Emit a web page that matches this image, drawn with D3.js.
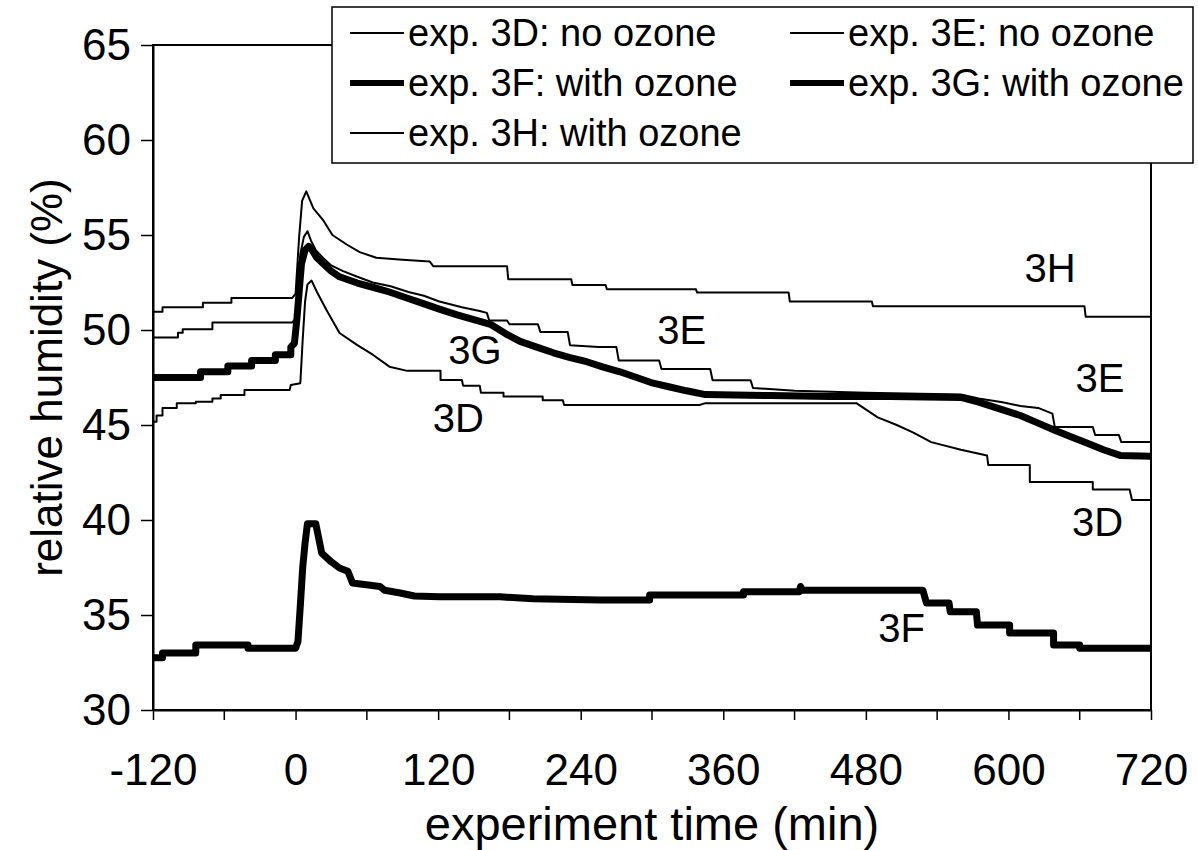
<html>
<head>
<script src="https://d3js.org/d3.v7.min.js"></script>
<style>
  body{ margin:0; background:#fff; }
  text{ font-family: Arial, "Liberation Sans", sans-serif; fill:#000; }
</style>
</head>
<body>
<script>
// relative humidity (%) vs experiment time (min)
const exp3D = [[-120,45.17],[-117,45.17],[-117,45.5],[-112,45.5],[-112,45.9],[-100,45.9],[-100,46.15],[-84,46.15],[-84,46.23],[-70,46.23],[-70,46.4],[-63,46.4],[-63,46.58],[-43,46.58],[-43,46.84],[-5,46.84],[-4,47.1],[4,47.2],[6,49.5],[8,51.5],[10,52.4],[13.5,52.6],[18,52.0],[26,51.05],[37,49.84],[52,49.2],[65,48.7],[79,48.07],[94,47.85],[122,47.85],[122,47.37],[140,47.37],[141,47.07],[155,47.07],[156,46.7],[175,46.7],[175,46.5],[208,46.5],[208,46.3],[225,46.3],[226,46.05],[340,46.05],[345,46.15],[472,46.15],[490,45.4],[506,45.0],[520,44.6],[535,44.1],[560,43.7],[582,43.4],[583,42.9],[618,42.9],[618,42.0],[671,42.0],[671,41.6],[702,41.6],[704,41.05],[720,41.05]];

const exp3E = [[-120,49.6],[-99,49.6],[-99,49.86],[-95,49.86],[-95,50.04],[-70,50.04],[-70,50.39],[-3,50.39],[0,50.6],[2,52.5],[4,54.0],[7,54.9],[10,55.2],[13,54.7],[17,54.2],[23,53.8],[30,53.4],[40,53.1],[52,52.8],[65,52.5],[80,52.3],[95,52.0],[108,51.8],[121,51.5],[140,51.2],[155,51.0],[161,50.9],[163,50.5],[178,50.5],[180,50.3],[204,50.3],[206,49.9],[229,49.9],[231,49.2],[255,49.1],[270,49.1],[272,48.4],[306,48.4],[308,47.95],[349,47.95],[351,47.35],[383,47.35],[385,46.95],[420,46.8],[480,46.7],[560,46.6],[575,46.4],[595,46.2],[610,46.0],[625,45.9],[637,45.6],[639,44.9],[671,44.9],[673,44.47],[693,44.47],[695,44.1],[720,44.1]];

const exp3F = [[-120,32.75],[-112,32.75],[-112,33.0],[-84,33.0],[-84,33.42],[-40,33.42],[-40,33.25],[0,33.25],[2,33.6],[4,35.5],[6,37.5],[8,38.8],[10,39.8],[17,39.8],[22,38.26],[30,37.8],[37,37.47],[44,37.3],[48,36.68],[71,36.5],[75,36.3],[88,36.16],[100,36.0],[121,35.96],[172,35.96],[200,35.85],[256,35.79],[298,35.79],[298,36.05],[377,36.05],[377,36.23],[424,36.23],[425,36.5],[427,36.3],[528,36.3],[531,35.63],[550,35.63],[551,35.17],[573,35.17],[574,34.47],[601,34.47],[601,34.05],[638,34.05],[638,33.42],[660,33.42],[660,33.25],[720,33.25]];

const exp3G = [[-120,47.5],[-80,47.5],[-80,47.8],[-57,47.8],[-57,48.1],[-37,48.1],[-37,48.4],[-17,48.4],[-17,48.7],[-4,48.7],[-4,49.1],[-1,49.3],[1,50.5],[3,52.0],[5,53.5],[8,54.2],[11,54.4],[14,54.2],[18,53.8],[23,53.5],[30,53.1],[37,52.8],[52,52.47],[65,52.25],[79,52.0],[93,51.7],[107,51.4],[121,51.1],[136,50.8],[150,50.55],[164,50.3],[177,49.8],[189,49.4],[203,49.1],[217,48.8],[231,48.55],[245,48.33],[259,48.05],[273,47.8],[287,47.5],[301,47.2],[315,47.0],[329,46.8],[345,46.6],[400,46.55],[450,46.5],[500,46.5],[560,46.45],[575,46.2],[590,45.9],[610,45.5],[625,45.1],[640,44.7],[652,44.4],[666,44.05],[680,43.7],[694,43.4],[720,43.35]];

const exp3H = [[-120,50.96],[-112,50.96],[-112,51.2],[-78,51.2],[-78,51.44],[-54,51.44],[-54,51.68],[-3,51.68],[0,51.9],[3,54.9],[5.5,56.8],[9,57.3],[15,56.4],[23,55.8],[31,55.0],[43,54.5],[54,54.1],[68,53.8],[90,53.7],[113,53.6],[116,53.35],[178,53.35],[179,52.67],[232,52.67],[233,52.37],[261,52.37],[262,52.14],[337,52.14],[338,51.97],[415,51.97],[416,51.5],[485,51.5],[486,51.25],[664,51.25],[665,50.7],[720,50.7]];

const xTicks = [-120,0,120,240,360,480,600,720];
const xMinorTicks = [-60,60,180,300,420,540,660];
const yTicks = [30,35,40,45,50,55,60,65];

const legendItems = [
  {name:'exp. 3D: no ozone', data:exp3D, thick:false},
  {name:'exp. 3E: no ozone', data:exp3E, thick:false},
  {name:'exp. 3F: with ozone', data:exp3F, thick:true},
  {name:'exp. 3G: with ozone', data:exp3G, thick:true},
  {name:'exp. 3H: with ozone', data:exp3H, thick:false}
];

const curveLabels = [
  {text:'3H', t:635, rh:53.26},
  {text:'3E', t:325, rh:50.0},
  {text:'3E', t:677, rh:47.47},
  {text:'3G', t:151, rh:48.95},
  {text:'3D', t:137, rh:45.37},
  {text:'3D', t:675, rh:39.9},
  {text:'3F', t:510, rh:34.3}
];

const W = 1198, H = 850;
const pLeft = 153, pRight = 1151, pTop = 45, pBottom = 710;

const x = d3.scaleLinear().domain([-120,720]).range([pLeft,pRight]);
const y = d3.scaleLinear().domain([30,65]).range([pBottom,pTop]);

const svg = d3.select('body').append('svg')
  .attr('width',W).attr('height',H);

svg.append('clipPath').attr('id','plotclip')
  .append('rect').attr('x',pLeft).attr('y',pTop)
  .attr('width',pRight-pLeft).attr('height',pBottom-pTop);

// plot frame
svg.append('rect')
  .attr('x',pLeft).attr('y',pTop)
  .attr('width',pRight-pLeft).attr('height',pBottom-pTop)
  .attr('fill','none').attr('stroke','#000').attr('stroke-width',2);

// axes
const xAxis = d3.axisBottom(x).tickValues(xTicks).tickSize(10).tickSizeOuter(0)
  .tickPadding(34)
  .tickFormat(d => d < 0 ? '-' + Math.abs(d) : d);
const gx = svg.append('g').attr('transform','translate(0,'+pBottom+')').call(xAxis);
gx.select('.domain').attr('stroke-width',2);
gx.selectAll('.tick line').attr('stroke-width',1.5);
gx.selectAll('.tick text').attr('font-size',44)
  .style('font-family','Arial, "Liberation Sans", sans-serif');

svg.append('g').selectAll('line').data(xMinorTicks).enter().append('line')
  .attr('x1',d=>x(d)).attr('x2',d=>x(d))
  .attr('y1',pBottom).attr('y2',pBottom+10)
  .attr('stroke','#000').attr('stroke-width',1.5);

const yAxis = d3.axisLeft(y).tickValues(yTicks).tickSize(12).tickSizeOuter(0).tickPadding(10);
const gy = svg.append('g').attr('transform','translate('+pLeft+',0)').call(yAxis);
gy.select('.domain').attr('stroke-width',2);
gy.selectAll('.tick line').attr('stroke-width',1.5);
gy.selectAll('.tick text').attr('font-size',44)
  .style('font-family','Arial, "Liberation Sans", sans-serif');

// axis titles
svg.append('text')
  .attr('x',(pLeft+pRight)/2).attr('y',823)
  .attr('text-anchor','middle').attr('dominant-baseline','central')
  .attr('font-size',47)
  .text('experiment time (min)');

svg.append('text')
  .attr('transform','translate(46,'+((pTop+pBottom)/2)+') rotate(-90)')
  .attr('text-anchor','middle').attr('dominant-baseline','central')
  .attr('font-size',44)
  .text('relative humidity (%)');

// series
const line = d3.line().x(d=>x(d[0])).y(d=>y(d[1]));

const lines = svg.append('g').attr('clip-path','url(#plotclip)');
lines.selectAll('path')
  .data(legendItems)
  .enter()
  .append('path')
  .attr('d',d=>line(d.data))
  .attr('fill','none')
  .attr('stroke','#000')
  .attr('stroke-width',d=>d.thick ? 7 : 2)
  .attr('stroke-linejoin','round');

// curve labels
svg.append('g').selectAll('text')
  .data(curveLabels)
  .enter()
  .append('text')
  .attr('x',d=>x(d.t)).attr('y',d=>y(d.rh))
  .attr('text-anchor','middle').attr('dominant-baseline','central')
  .attr('font-size',40)
  .text(d=>d.text);

// legend
const lg = svg.append('g');
lg.append('rect')
  .attr('x',332).attr('y',7).attr('width',861).attr('height',156)
  .attr('fill','#fff').attr('stroke','#000').attr('stroke-width',1.5);

const colX = [350, 790];
const rowY = [33, 83, 133];
legendItems.forEach(function(item,i){
  const cx = colX[i%2], cy = rowY[Math.floor(i/2)];
  lg.append('line')
    .attr('x1',cx).attr('x2',cx+54).attr('y1',cy).attr('y2',cy)
    .attr('stroke','#000').attr('stroke-width',item.thick ? 6 : 2);
  lg.append('text')
    .attr('x',cx+58).attr('y',cy)
    .attr('dominant-baseline','central')
    .attr('font-size',38)
    .text(item.name);
});
</script>
</body>
</html>
